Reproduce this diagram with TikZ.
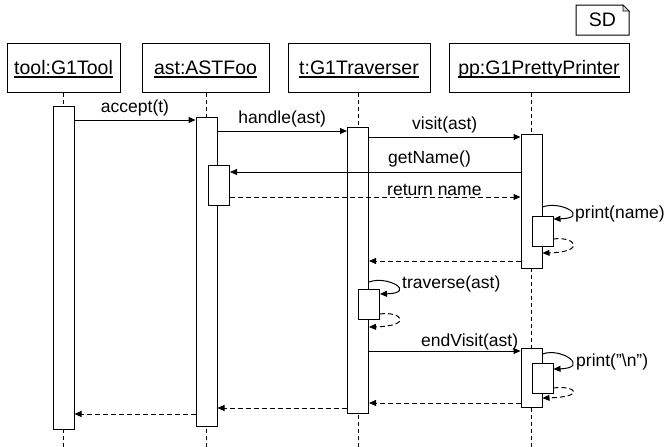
\documentclass[tikz,border=0pt]{standalone}
\usepackage{fontspec}
\setmainfont{Liberation Sans}
\usetikzlibrary{arrows.meta,backgrounds}
% object name with a fixed underline just below the baseline
\newsavebox\objbox
\newcommand\objname[1]{\sbox\objbox{#1}\rlap{\rule[-3.4pt]{\wd\objbox}{1.7pt}}\usebox\objbox}
\begin{document}
\begin{tikzpicture}[x=1pt,y=-1pt,
  head/.style={draw, line width=1pt, minimum height=49pt, inner sep=0pt,
    text height=14pt, text depth=0pt, font=\fontsize{19.5}{23}\selectfont},
  bar/.style={draw, fill=white, line width=1pt, minimum width=21pt,
    inner sep=0pt, anchor=north},
  msg/.style={line width=1pt, -{Triangle[length=7pt,width=6pt]}},
  ret/.style={msg, dash pattern=on 5pt off 3pt},
  lifeline/.style={line width=1pt, dash pattern=on 4pt off 3pt},
  lbl/.style={inner sep=0pt, font=\fontsize{17.5}{21}\selectfont},
]
\useasboundingbox (0,0) rectangle (664,447);

% frame tag
\draw[line width=1pt] (576,5) -- (623,5) -- (629,11) -- (629,35) -- (576,35) -- cycle;
\draw[line width=0.6pt, fill=black!15] (623,5) -- (623,11) -- (629,11) -- cycle;
\node[inner sep=0pt, font=\fontsize{19.5}{23}\selectfont] (sd) at (602.5,20) {SD};

% object heads
\node[head, minimum width=113pt] (tool) at (63.5,67.5) {\objname{tool:G1Tool}};
\node[head, minimum width=127pt] (ast)  at (205.5,67.5) {\objname{ast:ASTFoo}};
\node[head, minimum width=142pt] (trav) at (359,67.5) {\objname{t:G1Traverser}};
\node[head, minimum width=180pt] (pp)   at (539,67.5) {\objname{pp:G1PrettyPrinter}};

% activation bars
\node[bar, minimum height=323pt] (toolbar) at (63.5,106) {};
\node[bar, minimum height=309pt] (astbar)  at (206.5,117) {};
\node[bar, minimum height=40pt]  (astsub)  at (219,165) {};
\node[bar, minimum height=286pt] (travbar) at (358,127) {};
\node[bar, minimum height=30pt]  (travsub) at (369,289) {};
\node[bar, minimum height=134pt] (ppbar1)  at (531.5,134) {};
\node[bar, minimum height=30pt]  (ppsub1)  at (542.5,216) {};
\node[bar, minimum height=59pt]  (ppbar2)  at (531.5,348) {};
\node[bar, minimum height=30pt]  (ppsub2)  at (542.5,363) {};

% lifelines
\begin{scope}[on background layer]
\draw[lifeline] (toolbar.north |- tool.south) -- (toolbar.north |- 0,447);
\draw[lifeline] (astbar.north |- ast.south) -- (astbar.north |- 0,447);
\draw[lifeline] (travbar.north |- trav.south) -- (travbar.north |- 0,447);
\draw[lifeline] (ppbar1.north |- pp.south) -- (ppbar1.north |- 0,447);
\end{scope}

% calls
\draw[msg] (toolbar.east |- 0,120) -- node[lbl, above=3pt] {accept(t)} (astbar.west |- 0,120);
\draw[msg] (astbar.east |- 0,131) -- node[lbl, above=3.5pt] {handle(ast)} (travbar.west |- 0,131);
\draw[msg] (travbar.east |- 0,137) -- node[lbl, above=3pt] {visit(ast)} (ppbar1.west |- 0,137);
\draw[msg] (ppbar1.west |- 0,172) -- (astsub.east |- 0,172);
\node[lbl, anchor=south west] (lgetname) at (388,167) {getName()};
\draw[ret] (astsub.east |- 0,197) -- (ppbar1.west |- 0,197);
\node[lbl, anchor=base west] (lretname) at (387,195) {return name};

% print(name) self call
\draw[msg] (ppbar1.east |- 0,207) .. controls +(19,-7) and +(37,-1) .. (ppsub1.east |- 0,219);
\node[lbl, anchor=west] (lprint1) at (575,213.5) {print(name)};
\draw[ret] (ppsub1.east |- 0,239) .. controls +(22,-3) and +(44,-1) .. (ppbar1.east |- 0,253);
\draw[ret] (ppbar1.west |- 0,261) -- (travbar.east |- 0,261);

% traverse(ast) self call
\draw[msg] (travbar.east |- 0,282) .. controls +(19,-7) and +(37,-1) .. (travsub.east |- 0,294);
\node[lbl, anchor=west] (ltraverse) at (402,283.5) {traverse(ast)};
\draw[ret] (travsub.east |- 0,314) .. controls +(22,-3) and +(44,-1) .. (travbar.east |- 0,327);

% endVisit(ast)
\draw[msg] (travbar.east |- 0,351) -- (ppbar2.west |- 0,351);
\node[lbl, anchor=south west] (lendvisit) at (421,350) {endVisit(ast)};
\draw[msg] (ppbar2.east |- 0,354) .. controls +(19,-7) and +(37,-1) .. (ppsub2.east |- 0,369);
\node[lbl, anchor=west] (lprint2) at (576,361.5) {print({\char`\"}\textbackslash n{\char`\"})};
\draw[ret] (ppsub2.east |- 0,388) .. controls +(22,-3) and +(44,-1) .. (ppbar2.east |- 0,398);
\draw[ret] (ppbar2.west |- 0,403) -- (travbar.east |- 0,403);

% final returns
\draw[ret] (travbar.west |- 0,408) -- (astbar.east |- 0,408);
\draw[ret] (astbar.west |- 0,414) -- (toolbar.east |- 0,414);
\end{tikzpicture}
\end{document}
